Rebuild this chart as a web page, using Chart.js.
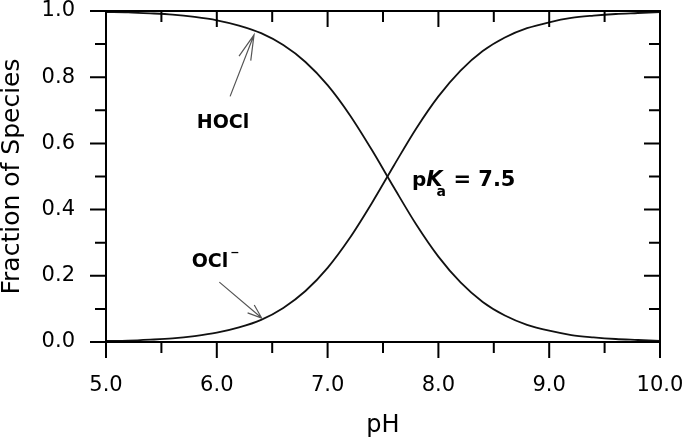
<!DOCTYPE html>
<html><head><meta charset="utf-8">
<script src="https://cdn.jsdelivr.net/npm/chart.js@4.4.1/dist/chart.umd.min.js"></script>
<style>html,body{margin:0;padding:0;background:#fff;}</style>
</head><body>
<canvas id="c" width="685" height="445"></canvas>
<script>
// ---- data ----
const pH = [5.0,5.2,5.4,5.6,5.8,6.0,6.2,6.4,6.6,6.8,7.0,7.2,7.4,7.6,7.8,8.0,8.2,8.4,8.6,8.8,9.0,9.2,9.4,9.6,9.8,10.0];
const hoclFraction = [0.997,0.996,0.993,0.989,0.982,0.972,0.956,0.933,0.897,0.846,0.776,0.686,0.580,0.466,0.355,0.258,0.180,0.121,0.080,0.052,0.034,0.021,0.014,0.009,0.006,0.003];
const oclFraction  = [0.003,0.004,0.007,0.011,0.018,0.028,0.044,0.067,0.103,0.154,0.224,0.314,0.420,0.534,0.645,0.742,0.820,0.879,0.920,0.948,0.966,0.979,0.986,0.991,0.994,0.997];
const xTickValues = [5.0,5.5,6.0,6.5,7.0,7.5,8.0,8.5,9.0,9.5,10.0];
const yTickValues = [0.0,0.1,0.2,0.3,0.4,0.5,0.6,0.7,0.8,0.9,1.0];
const xMajorTicks = [5,6,7,8,9,10];
const yMajorTicks = [0,0.2,0.4,0.6,0.8,1.0];

// ---- annotation placement (data units) ----
const annotations = {
  hoclLabel: {text:'HOCl', x:6.056, y:0.66},
  oclLabel: {text:'OCl', sup:'\u2212', x:5.773, y:0.242},
  pkaLabel: {x:7.762, y:0.471},
  hoclArrow: {x1:6.12, y1:0.742, x2:6.336, y2:0.928, head:26, ang:14},
  oclArrow: {x1:6.023, y1:0.181, x2:6.405, y2:0.0724, head:15, ang:20}
};

Chart.defaults.font.family = "'DejaVu Sans', sans-serif";
Chart.defaults.color = '#000';

const isMajor = (v, list) => list.some(m => Math.abs(m - v) < 1e-6);
const zeroPad = s => { s.paddingTop = 0; s.paddingBottom = 0; s.paddingLeft = 0; s.paddingRight = 0; };

const framePlugin = {
  id: 'frame',
  afterDatasetsDraw(chart) {
    const {ctx, chartArea: a, scales: {x, y}} = chart;
    ctx.save();
    ctx.strokeStyle = '#000';
    ctx.lineWidth = 2;
    ctx.lineCap = 'butt';
    ctx.strokeRect(a.left, a.top, a.right - a.left, a.bottom - a.top);
    ctx.beginPath();
    xTickValues.forEach(v => {
      const px = x.getPixelForValue(v);
      const len = isMajor(v, xMajorTicks) ? 16 : 11;
      ctx.moveTo(px, a.bottom); ctx.lineTo(px, a.bottom + len);
      ctx.moveTo(px, a.top); ctx.lineTo(px, a.top + len);
    });
    yTickValues.forEach(v => {
      const py = y.getPixelForValue(v);
      const len = isMajor(v, yMajorTicks) ? 16 : 11;
      ctx.moveTo(a.left, py); ctx.lineTo(a.left - len, py);
      ctx.moveTo(a.right, py); ctx.lineTo(a.right - len, py);
    });
    ctx.stroke();

    // arrows
    ctx.strokeStyle = '#555';
    ctx.lineWidth = 1.2;
    [annotations.hoclArrow, annotations.oclArrow].forEach(ar => {
      const x1 = x.getPixelForValue(ar.x1), y1 = y.getPixelForValue(ar.y1);
      const x2 = x.getPixelForValue(ar.x2), y2 = y.getPixelForValue(ar.y2);
      const ang = Math.atan2(y1 - y2, x1 - x2);
      const d = ar.ang * Math.PI / 180;
      ctx.beginPath();
      ctx.moveTo(x1, y1); ctx.lineTo(x2, y2);
      ctx.moveTo(x2 + ar.head * Math.cos(ang - d), y2 + ar.head * Math.sin(ang - d));
      ctx.lineTo(x2, y2);
      ctx.lineTo(x2 + ar.head * Math.cos(ang + d), y2 + ar.head * Math.sin(ang + d));
      ctx.stroke();
    });

    // labels
    ctx.fillStyle = '#000';
    ctx.font = "bold 19px 'DejaVu Sans'";
    ctx.textBaseline = 'middle';
    ctx.textAlign = 'center';
    const h = annotations.hoclLabel;
    ctx.fillText(h.text, x.getPixelForValue(h.x), y.getPixelForValue(h.y));
    ctx.textAlign = 'left';
    const o = annotations.oclLabel;
    const ox = x.getPixelForValue(o.x), oy = y.getPixelForValue(o.y);
    ctx.fillText(o.text, ox, oy);
    const ow = ctx.measureText(o.text).width;
    ctx.font = "bold 11px 'DejaVu Sans'";
    ctx.fillText(o.sup, ox + ow + 2, oy - 9);

    const p = annotations.pkaLabel;
    let px = x.getPixelForValue(p.x);
    const py = y.getPixelForValue(p.y);
    ctx.textBaseline = 'alphabetic';
    ctx.font = "bold 20px 'DejaVu Sans'";
    ctx.fillText('p', px, py); px += ctx.measureText('p').width;
    ctx.font = "italic bold 21px 'DejaVu Sans'";
    ctx.fillText('K', px, py); const kw = ctx.measureText('K').width;
    ctx.font = "bold 14px 'DejaVu Sans'";
    ctx.fillText('a', px + kw - 6, py + 10); px += kw - 6 + ctx.measureText('a').width;
    ctx.font = "bold 21px 'DejaVu Sans'";
    ctx.fillText(' = 7.5', px, py);
    ctx.restore();
  }
};

new Chart(document.getElementById('c'), {
  type: 'line',
  data: {
    datasets: [
      {label: 'HOCl', data: pH.map((v, i) => ({x: v, y: hoclFraction[i]})), borderColor: '#111', borderWidth: 1.8, pointRadius: 0, cubicInterpolationMode: 'monotone', fill: false},
      {label: 'OCl\u207B', data: pH.map((v, i) => ({x: v, y: oclFraction[i]})), borderColor: '#111', borderWidth: 1.8, pointRadius: 0, cubicInterpolationMode: 'monotone', fill: false}
    ]
  },
  options: {
    responsive: false,
    devicePixelRatio: 1,
    animation: false,
    layout: {autoPadding: false, padding: {left: 0, right: 25, top: 11, bottom: 0}},
    plugins: {legend: {display: false}, tooltip: {enabled: false}},
    scales: {
      x: {
        type: 'linear', min: 5, max: 10, position: 'bottom',
        ticks: {stepSize: 1, padding: 31, color: '#000', font: {size: 21}, maxRotation: 0, autoSkip: false,
                callback: v => Number(v).toFixed(1)},
        grid: {display: false, drawTicks: false}, border: {display: false},
        title: {display: true, text: 'pH', color: '#000', font: {size: 24}, padding: {top: 0, bottom: 5}},
        afterFit(s) { s.height = 103; zeroPad(s); }
      },
      y: {
        type: 'linear', min: 0, max: 1, position: 'left',
        ticks: {stepSize: 0.2, padding: 31, color: '#000', font: {size: 21}, autoSkip: false,
                callback: v => Number(v).toFixed(1)},
        grid: {display: false, drawTicks: false}, border: {display: false},
        title: {display: true, text: 'Fraction of Species', color: '#000', font: {size: 25, lineHeight: 1}, padding: {top: 0, bottom: 0}},
        afterFit(s) { s.width = 106; zeroPad(s); }
      }
    }
  },
  plugins: [framePlugin]
});
</script>
</body></html>
